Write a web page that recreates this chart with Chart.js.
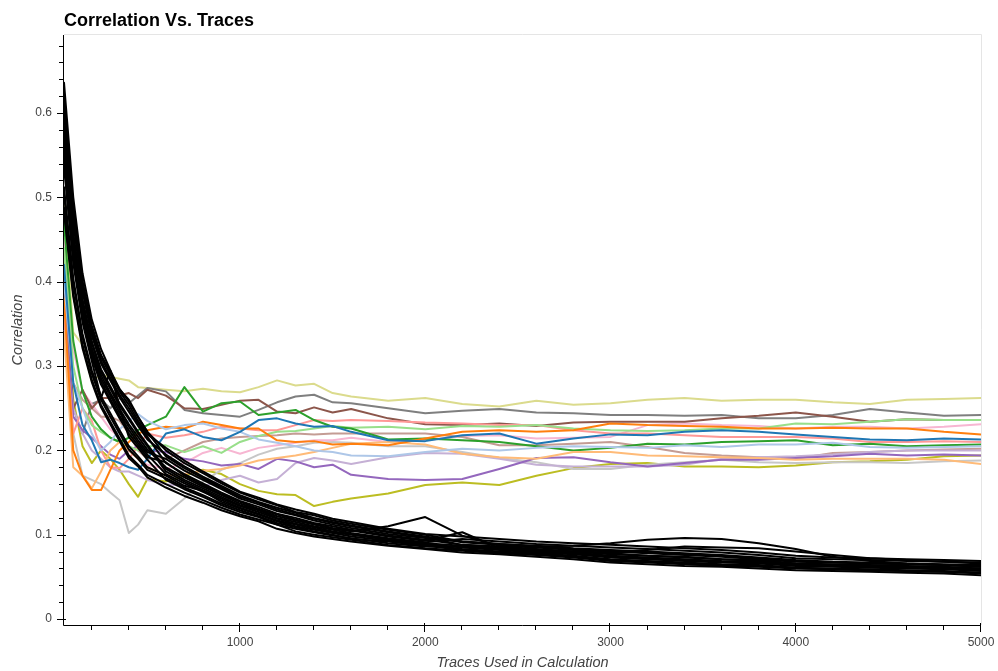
<!DOCTYPE html>
<html><head><meta charset="utf-8">
<script src="https://cdn.jsdelivr.net/npm/chart.js@4.4.1/dist/chart.umd.min.js"></script>
<style>html,body{margin:0;padding:0;background:#fff;}#wrap{width:998px;height:671px;position:relative;}canvas{display:block;}</style>
</head><body><div id="wrap"><canvas id="c" width="998" height="671"></canvas></div>
<script>
const chartTitle = "Correlation Vs. Traces";
const xLabel = "Traces Used in Calculation";
const yLabel = "Correlation";
const xTicks = [1000, 2000, 3000, 4000, 5000];
const yTicks = [0, 0.1, 0.2, 0.3, 0.4, 0.5, 0.6];
const traces = [50,100,150,200,250,300,350,400,450,500,600,700,800,900,1000,1100,1200,1300,1400,1500,1600,1800,2000,2200,2400,2600,2800,3000,3200,3400,3600,3800,4000,4200,4400,4600,4800,5000];

// coloured series
const blue = [0.42,0.28,0.23,0.212,0.186,0.189,0.185,0.18,0.177,0.19,0.22,0.225,0.216,0.212,0.222,0.236,0.238,0.232,0.228,0.229,0.222,0.212,0.211,0.218,0.22,0.208,0.214,0.219,0.218,0.222,0.224,0.222,0.219,0.216,0.213,0.212,0.214,0.213];
const lightBlue = [0.4,0.28,0.25,0.22,0.2,0.21,0.225,0.235,0.243,0.235,0.225,0.23,0.232,0.226,0.222,0.213,0.209,0.205,0.2,0.198,0.194,0.193,0.198,0.202,0.2,0.203,0.205,0.204,0.203,0.206,0.204,0.207,0.207,0.209,0.204,0.203,0.204,0.205];
const orange = [0.38,0.2,0.17,0.153,0.153,0.177,0.2,0.21,0.22,0.224,0.228,0.226,0.234,0.23,0.226,0.226,0.212,0.21,0.211,0.207,0.208,0.206,0.214,0.222,0.224,0.222,0.224,0.232,0.23,0.229,0.228,0.226,0.226,0.227,0.226,0.226,0.222,0.219];
const lightOrange = [0.34,0.18,0.17,0.155,0.175,0.2,0.21,0.2,0.19,0.18,0.17,0.172,0.176,0.178,0.182,0.188,0.191,0.194,0.198,0.203,0.208,0.21,0.207,0.196,0.192,0.19,0.198,0.198,0.194,0.193,0.192,0.191,0.189,0.19,0.19,0.19,0.189,0.184];
const green = [0.47,0.33,0.27,0.24,0.225,0.215,0.21,0.215,0.224,0.23,0.24,0.275,0.246,0.256,0.258,0.242,0.245,0.248,0.236,0.228,0.226,0.213,0.214,0.212,0.21,0.205,0.2,0.203,0.208,0.207,0.21,0.211,0.212,0.206,0.208,0.205,0.206,0.207];
const lightGreen = [0.44,0.3,0.25,0.23,0.222,0.215,0.21,0.205,0.2,0.205,0.206,0.198,0.205,0.197,0.21,0.217,0.222,0.223,0.226,0.229,0.227,0.228,0.225,0.229,0.228,0.23,0.226,0.224,0.223,0.224,0.226,0.226,0.232,0.231,0.234,0.237,0.236,0.236];
const salmon = [0.36,0.22,0.25,0.235,0.2,0.18,0.179,0.19,0.205,0.22,0.215,0.218,0.222,0.228,0.226,0.224,0.224,0.23,0.236,0.235,0.236,0.235,0.233,0.232,0.23,0.23,0.224,0.22,0.22,0.218,0.216,0.216,0.216,0.214,0.21,0.21,0.211,0.21];
const purple = [0.38,0.24,0.224,0.215,0.205,0.195,0.19,0.2,0.205,0.2,0.198,0.19,0.187,0.182,0.184,0.178,0.19,0.187,0.18,0.183,0.171,0.166,0.165,0.166,0.178,0.191,0.192,0.186,0.181,0.185,0.189,0.189,0.191,0.193,0.196,0.194,0.195,0.194];
const lightPurple = [0.35,0.25,0.22,0.2,0.19,0.18,0.175,0.175,0.17,0.165,0.16,0.158,0.157,0.165,0.17,0.162,0.166,0.185,0.191,0.188,0.184,0.192,0.197,0.196,0.19,0.183,0.181,0.181,0.181,0.183,0.19,0.192,0.193,0.195,0.198,0.2,0.2,0.2];
const brown = [0.39,0.25,0.272,0.25,0.262,0.262,0.265,0.268,0.262,0.272,0.265,0.25,0.249,0.254,0.259,0.26,0.246,0.244,0.251,0.245,0.249,0.238,0.231,0.23,0.232,0.229,0.233,0.234,0.234,0.234,0.238,0.241,0.245,0.24,0.234,0.237,0.236,0.236];
const lightBrown = [0.37,0.28,0.26,0.25,0.24,0.24,0.235,0.22,0.2,0.19,0.19,0.2,0.21,0.214,0.216,0.217,0.218,0.22,0.219,0.22,0.22,0.22,0.22,0.216,0.206,0.206,0.208,0.21,0.204,0.197,0.194,0.192,0.19,0.197,0.198,0.2,0.201,0.202];
const lightPink = [0.45,0.32,0.27,0.255,0.24,0.225,0.215,0.2,0.19,0.183,0.178,0.185,0.197,0.203,0.196,0.203,0.206,0.209,0.212,0.212,0.215,0.21,0.212,0.217,0.218,0.214,0.215,0.216,0.23,0.232,0.23,0.229,0.226,0.228,0.228,0.226,0.228,0.231];
const gray = [0.42,0.25,0.22,0.255,0.26,0.25,0.262,0.256,0.265,0.274,0.27,0.248,0.244,0.242,0.24,0.248,0.257,0.264,0.266,0.257,0.256,0.25,0.244,0.247,0.249,0.245,0.244,0.242,0.242,0.241,0.242,0.238,0.238,0.242,0.249,0.245,0.241,0.242];
const lightGray = [0.36,0.22,0.17,0.165,0.16,0.15,0.141,0.102,0.112,0.129,0.125,0.143,0.163,0.177,0.185,0.195,0.202,0.205,0.209,0.21,0.209,0.205,0.205,0.198,0.191,0.186,0.178,0.178,0.183,0.186,0.189,0.186,0.185,0.186,0.186,0.185,0.187,0.188];
const olive = [0.45,0.26,0.205,0.185,0.2,0.19,0.177,0.16,0.145,0.166,0.163,0.17,0.177,0.172,0.16,0.152,0.148,0.147,0.134,0.139,0.143,0.149,0.159,0.162,0.159,0.17,0.179,0.184,0.185,0.181,0.181,0.18,0.182,0.186,0.187,0.189,0.193,0.194];
const lightOlive = [0.5,0.34,0.325,0.282,0.29,0.287,0.285,0.283,0.275,0.274,0.272,0.27,0.273,0.27,0.269,0.275,0.283,0.277,0.279,0.268,0.264,0.259,0.262,0.255,0.252,0.259,0.254,0.256,0.26,0.262,0.259,0.26,0.26,0.257,0.255,0.26,0.261,0.262];

// black series
const k1 = [0.636,0.5,0.41,0.355,0.32,0.295,0.272,0.26,0.24,0.222,0.2,0.185,0.173,0.161,0.15,0.142,0.135,0.127,0.123,0.117,0.113,0.106,0.1,0.092,0.089,0.087,0.084,0.082,0.08,0.078,0.076,0.073,0.07,0.068,0.067,0.066,0.065,0.064];
const k2 = [0.608,0.476,0.392,0.34,0.306,0.286,0.266,0.25,0.232,0.216,0.185,0.172,0.161,0.15,0.14,0.133,0.125,0.12,0.114,0.11,0.106,0.099,0.094,0.088,0.086,0.083,0.08,0.078,0.075,0.074,0.071,0.07,0.066,0.065,0.064,0.063,0.062,0.06];
const k3 = [0.568,0.446,0.37,0.321,0.289,0.268,0.249,0.231,0.216,0.201,0.18,0.168,0.157,0.147,0.137,0.13,0.122,0.117,0.112,0.107,0.104,0.11,0.121,0.099,0.087,0.085,0.082,0.08,0.078,0.076,0.074,0.071,0.068,0.067,0.066,0.065,0.064,0.062];
const k4 = [0.56,0.44,0.365,0.318,0.285,0.265,0.245,0.228,0.212,0.198,0.19,0.176,0.165,0.154,0.143,0.136,0.128,0.123,0.117,0.112,0.108,0.101,0.096,0.092,0.089,0.086,0.087,0.09,0.094,0.096,0.095,0.09,0.083,0.074,0.069,0.066,0.064,0.062];
const k5 = [0.579,0.454,0.376,0.327,0.293,0.273,0.253,0.237,0.22,0.205,0.175,0.163,0.153,0.143,0.134,0.127,0.119,0.113,0.109,0.104,0.101,0.095,0.09,0.087,0.084,0.082,0.08,0.079,0.082,0.086,0.085,0.084,0.08,0.076,0.072,0.07,0.068,0.067];
const k6 = [0.544,0.428,0.356,0.31,0.278,0.258,0.238,0.22,0.206,0.192,0.186,0.17,0.159,0.148,0.139,0.131,0.124,0.118,0.113,0.108,0.105,0.098,0.093,0.103,0.084,0.081,0.079,0.075,0.073,0.071,0.069,0.068,0.065,0.063,0.062,0.061,0.06,0.059];
const k7 = [0.512,0.404,0.338,0.295,0.264,0.244,0.224,0.205,0.193,0.18,0.17,0.158,0.152,0.139,0.131,0.124,0.116,0.11,0.106,0.102,0.098,0.093,0.088,0.083,0.08,0.078,0.075,0.071,0.069,0.067,0.065,0.064,0.061,0.06,0.059,0.058,0.057,0.055];
const k8 = [0.616,0.482,0.396,0.344,0.31,0.29,0.27,0.254,0.235,0.219,0.203,0.188,0.175,0.163,0.151,0.144,0.136,0.13,0.125,0.119,0.115,0.107,0.101,0.098,0.095,0.092,0.09,0.088,0.086,0.084,0.082,0.079,0.075,0.073,0.072,0.071,0.07,0.069];
const k9 = [0.488,0.386,0.325,0.284,0.254,0.234,0.214,0.194,0.183,0.171,0.16,0.15,0.141,0.132,0.124,0.118,0.112,0.104,0.1,0.097,0.094,0.088,0.084,0.081,0.078,0.076,0.073,0.069,0.067,0.065,0.063,0.062,0.06,0.059,0.058,0.057,0.056,0.054];
const k10 = [0.6,0.47,0.388,0.336,0.303,0.283,0.263,0.246,0.229,0.213,0.195,0.181,0.169,0.158,0.147,0.139,0.132,0.126,0.12,0.115,0.111,0.104,0.098,0.091,0.088,0.086,0.083,0.081,0.079,0.077,0.075,0.072,0.069,0.067,0.066,0.065,0.064,0.063];
const k11 = [0.552,0.434,0.36,0.314,0.281,0.261,0.241,0.224,0.209,0.195,0.172,0.161,0.151,0.141,0.132,0.125,0.117,0.112,0.107,0.103,0.1,0.094,0.089,0.085,0.082,0.079,0.077,0.073,0.071,0.069,0.067,0.066,0.063,0.062,0.061,0.06,0.059,0.057];
const k12 = [0.624,0.488,0.401,0.348,0.313,0.293,0.273,0.258,0.239,0.222,0.193,0.179,0.167,0.156,0.145,0.138,0.13,0.124,0.119,0.114,0.11,0.103,0.097,0.088,0.085,0.082,0.08,0.077,0.075,0.073,0.071,0.069,0.066,0.064,0.063,0.062,0.061,0.06];
const k13 = [0.536,0.422,0.352,0.306,0.262,0.295,0.25,0.216,0.203,0.189,0.165,0.154,0.145,0.135,0.127,0.121,0.112,0.107,0.103,0.099,0.096,0.09,0.086,0.086,0.083,0.08,0.078,0.074,0.072,0.07,0.068,0.067,0.064,0.063,0.062,0.061,0.06,0.058];
const k14 = [0.504,0.398,0.334,0.291,0.26,0.24,0.22,0.201,0.19,0.177,0.167,0.156,0.147,0.137,0.129,0.122,0.114,0.109,0.104,0.1,0.095,0.092,0.087,0.082,0.079,0.077,0.074,0.07,0.068,0.066,0.064,0.063,0.061,0.059,0.058,0.057,0.056,0.055];
const k15 = [0.584,0.458,0.379,0.329,0.296,0.276,0.256,0.239,0.222,0.207,0.178,0.165,0.155,0.145,0.135,0.129,0.12,0.115,0.11,0.106,0.102,0.096,0.091,0.095,0.092,0.089,0.087,0.085,0.083,0.081,0.079,0.076,0.072,0.071,0.07,0.069,0.068,0.066];
const k16 = [0.482,0.382,0.321,0.281,0.251,0.231,0.211,0.191,0.181,0.168,0.156,0.146,0.138,0.129,0.122,0.116,0.107,0.102,0.098,0.095,0.092,0.087,0.083,0.079,0.077,0.074,0.071,0.067,0.065,0.063,0.062,0.06,0.058,0.057,0.056,0.055,0.054,0.052];

const colored = [
  [blue,'#1f77b4'],[lightBlue,'#aec7e8'],[orange,'#ff7f0e'],[lightOrange,'#ffbb78'],
  [green,'#2ca02c'],[lightGreen,'#98df8a'],[salmon,'#ff9896'],[purple,'#9467bd'],
  [lightPurple,'#c5b0d5'],[brown,'#8c564b'],[lightBrown,'#c49c94'],[lightPink,'#f7b6d2'],
  [gray,'#7f7f7f'],[lightGray,'#c7c7c7'],[olive,'#bcbd22'],[lightOlive,'#dbdb8d']
];
const blacks = [k1,k2,k3,k4,k5,k6,k7,k8,k9,k10,k11,k12,k13,k14,k15,k16];

const toPts = arr => arr.map((v,i)=>({x:traces[i], y:v}));
const datasets = [];
colored.forEach(([arr,col])=>datasets.push({data:toPts(arr), borderColor:col, order:1}));
blacks.forEach(arr=>datasets.push({data:toPts(arr), borderColor:'#000000', order:0}));

const FONT = "'Liberation Sans', Arial, Helvetica, sans-serif";

const decor = {
  id:'decor',
  beforeDatasetsDraw(chart){
    const {ctx, chartArea:a} = chart;
    ctx.save();
    ctx.strokeStyle = '#e5e5e5'; ctx.lineWidth = 1;
    ctx.beginPath();
    ctx.moveTo(a.left, a.top - 0.5); ctx.lineTo(a.right + 0.5, a.top - 0.5); ctx.lineTo(a.right + 0.5, a.bottom);
    ctx.stroke();
    ctx.restore();
  },
  afterDraw(chart){
    const {ctx, chartArea:a, scales:{x, y}} = chart;
    ctx.save();
    ctx.strokeStyle = '#000'; ctx.lineWidth = 1;
    ctx.beginPath();
    ctx.moveTo(a.left - 0.5, a.top); ctx.lineTo(a.left - 0.5, a.bottom + 0.5);
    ctx.moveTo(a.left - 0.5, a.bottom + 0.5); ctx.lineTo(a.right, a.bottom + 0.5);
    ctx.stroke();
    ctx.beginPath();
    for (let i = 0; i < xTicks.length; i++) {
      const px = Math.round(x.getPixelForValue(xTicks[i])) - 0.5;
      ctx.moveTo(px, a.bottom - 2); ctx.lineTo(px, a.bottom + 7);
      const prev = i === 0 ? 0 : xTicks[i-1];
      const step = (xTicks[i] - prev) / 5;
      for (let j = 1; j < 5; j++) {
        const v = prev + j * step;
        if (v < x.min) continue;
        const mp = Math.round(x.getPixelForValue(v)) - 0.5;
        ctx.moveTo(mp, a.bottom); ctx.lineTo(mp, a.bottom + 5);
      }
    }
    const ystep = (yTicks[1] - yTicks[0]) / 5;
    for (let i = 0; i < yTicks.length; i++) {
      const py = Math.round(y.getPixelForValue(yTicks[i])) + 0.5;
      ctx.moveTo(a.left + 2, py); ctx.lineTo(a.left - 7, py);
      for (let j = 1; j < 5; j++) {
        const v = yTicks[i] + j * ystep;
        if (v > y.max) continue;
        const mp = Math.round(y.getPixelForValue(v)) + 0.5;
        ctx.moveTo(a.left, mp); ctx.lineTo(a.left - 5, mp);
      }
    }
    ctx.stroke();
    ctx.fillStyle = '#000';
    ctx.font = "bold 18px " + FONT;
    ctx.textAlign = 'left'; ctx.textBaseline = 'alphabetic';
    ctx.fillText(chartTitle, a.left, 26);
    ctx.fillStyle = '#444';
    ctx.font = "italic 14.5px " + FONT;
    ctx.textAlign = 'center';
    ctx.fillText(xLabel, (a.left + a.right) / 2, 667);
    ctx.translate(22, (a.top + a.bottom) / 2);
    ctx.rotate(-Math.PI / 2);
    ctx.fillText(yLabel, 0, 0);
    ctx.restore();
  }
};

new Chart(document.getElementById('c'), {
  type:'line',
  data:{datasets},
  plugins:[decor],
  options:{
    responsive:false, animation:false, devicePixelRatio:1,
    layout:{padding:{left:0, right:17, top:35, bottom:0}},
    plugins:{legend:{display:false}, tooltip:{enabled:false}, title:{display:false}},
    elements:{point:{radius:0}, line:{tension:0, borderWidth:2, borderJoinStyle:'round', borderCapStyle:'round', fill:false}},
    scales:{
      x:{type:'linear', min:50, max:5000,
        afterFit(s){ s.height = 46; s.paddingLeft = 0; s.paddingRight = 0; },
        afterBuildTicks(s){ s.ticks = xTicks.map(v=>({value:v})); },
        grid:{display:false, drawTicks:false}, border:{display:false},
        ticks:{padding:10, color:'#444', font:{family:FONT, size:12}, maxRotation:0, autoSkip:false, callback:v=>String(v)}
      },
      y:{type:'linear', min:-0.007, max:0.6925,
        afterFit(s){ s.width = 64; s.paddingTop = 0; s.paddingBottom = 0; },
        afterBuildTicks(s){ s.ticks = yTicks.map(v=>({value:v})); },
        grid:{display:false, drawTicks:false}, border:{display:false},
        ticks:{padding:12, color:'#444', font:{family:FONT, size:12}, autoSkip:false, callback:v=>String(v)}
      }
    }
  }
});
</script></body></html>
